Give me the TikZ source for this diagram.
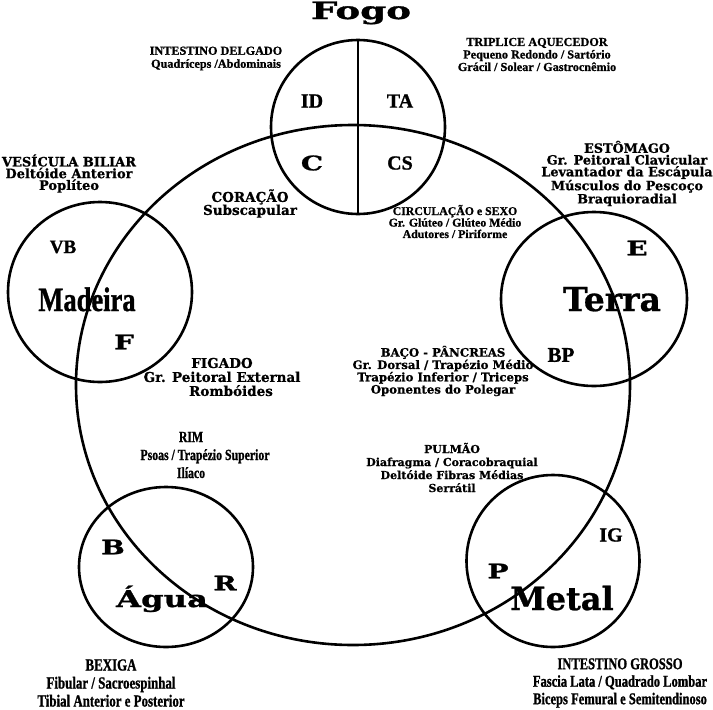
\documentclass[tikz,border=0pt]{standalone}
\usepackage{fontspec}
\usetikzlibrary{shapes.geometric}
\newfontfamily\wideF[BoldFeatures={FakeBold=0.8}]{DejaVu Serif}
\newfontfamily\xwideF[FakeStretch=1.4,BoldFeatures={FakeBold=1.2}]{DejaVu Serif}
\newfontfamily\fogoF[FakeStretch=1.55,BoldFeatures={FakeBold=1.4}]{DejaVu Serif}
\newfontfamily\medF[BoldFeatures={FakeBold=1}]{Liberation Serif}
\newfontfamily\condF[FakeStretch=0.76,BoldFeatures={FakeBold=1}]{Liberation Serif}
\newfontfamily\madF[FakeStretch=0.78,BoldFeatures={FakeBold=1}]{Liberation Serif}
\tikzset{
  ring/.style={draw, ellipse, line width=2.6pt, inner sep=0pt, outer sep=0pt},
  wtx/.style n args={2}{font=\wideF\bfseries\fontsize{#1}{#2}\selectfont, align=center, inner sep=0pt},
  xtx/.style={font=\xwideF\bfseries\fontsize{#1}{#1}\selectfont, inner sep=0pt},
  mtx/.style n args={2}{font=\medF\bfseries\fontsize{#1}{#2}\selectfont, align=center, inner sep=0pt},
  ctx/.style n args={2}{font=\condF\bfseries\fontsize{#1}{#2}\selectfont, align=center, inner sep=0pt},
}
\begin{document}
\begin{tikzpicture}[x=1pt,y=-1pt]
\useasboundingbox[fill=white] (0,0) rectangle (713,710);
% circles
\node[ring, minimum width=554pt, minimum height=520pt] (big) at (353,385) {};
\node[ring, minimum width=174pt, minimum height=174pt] (fogoC) at (358,127) {};
\node[ring, minimum width=184pt, minimum height=180pt] (madeiraC) at (100,292) {};
\node[ring, minimum width=186pt, minimum height=174pt] (terraC) at (594,299) {};
\node[ring, minimum width=174pt, minimum height=160pt] (aguaC) at (166,567) {};
\node[ring, minimum width=173pt, minimum height=172pt] (metalC) at (553,561) {};
\draw[line width=2.6pt] (fogoC.north) -- (fogoC.south);
% element names
\node[font=\fogoF\bfseries\fontsize{24}{24}\selectfont, inner sep=0pt, anchor=base] (fogo) at (361,19) {Fogo};
\node[font=\madF\bfseries\fontsize{34}{34}\selectfont, inner sep=0pt, anchor=base] (madeira) at (87,311) {Madeira};
\node[font=\wideF\bfseries\fontsize{33}{33}\selectfont, inner sep=0pt, anchor=base] (terra) at (612,311) {Terra};
\node[xtx=23, anchor=base] (agua) at (162,607) {Água};
\node[font=\wideF\bfseries\fontsize{32}{32}\selectfont, inner sep=0pt, anchor=base] (metal) at (562,610) {Metal};
% organ letters
\node[mtx={20}{20}] (id) at (312,101) {ID};
\node[mtx={20}{20}] (ta) at (400,101) {TA};
\node[mtx={20}{20}] (cs) at (400,163) {CS};
\node[xtx=20] (c) at (312,163) {C};
\node[mtx={19}{19}] (vb) at (63,247) {VB};
\node[xtx=20] (f) at (124,342) {F};
\node[xtx=20] (e) at (637,248) {E};
\node[mtx={21}{21}] (bp) at (561,355) {BP};
\node[xtx=20] (b) at (113,547) {B};
\node[xtx=20] (r) at (225,583) {R};
\node[mtx={20}{20}] (ig) at (611,535) {IG};
\node[xtx=20] (p) at (498,571) {P};
% descriptions
\node[mtx={12.2}{13}] (idtxt) at (216,58.5) {INTESTINO DELGADO\\Quadríceps /Abdominais};
\node[mtx={12.2}{12.5}] (tatxt) at (537,54.5) {TRIPLICE AQUECEDOR\\Pequeno Redondo / Sartório\\Grácil / Solear / Gastrocnêmio};
\node[wtx={13}{11.7}] (vbtxt) at (69,173.5) {VESÍCULA BILIAR\\Deltóide Anterior\\Poplíteo};
\node[wtx={13.5}{13}] (ctxt) at (250,203.5) {CORAÇÃO\\Subscapular};
\node[wtx={12.8}{11.75}] (etxt) at (627,173.5) {ESTÔMAGO\\Gr. Peitoral Clavicular\\Levantador da Escápula\\Músculos do Pescoço\\Braquioradial};
\node[mtx={11.8}{11.5}] (cstxt) at (455,221.5) {CIRCULAÇÃO e SEXO\\Gr. Glúteo / Glúteo Médio\\Adutores / Piriforme};
\node[wtx={13.5}{14}] (ftxt) at (222,377) {FIGADO\\Gr. Peitoral External\\\hspace*{18pt}Rombóides};
\node[wtx={11.7}{12.3}] (bptxt) at (443,371) {BAÇO - PÂNCREAS\\Gr. Dorsal / Trapézio Médio\\Trapézio Inferior / Triceps\\Oponentes do Polegar};
\node[ctx={15.5}{18}] (rtxt) at (205,455) {RIM\hspace*{28pt}\\Psoas / Trapézio Superior\\Ilíaco\hspace*{28pt}};
\node[wtx={11}{13}] (ptxt) at (452,467.5) {PULMÃO\\Diafragma / Coracobraquial\\Deltóide Fibras Médias\\Serrátil};
\node[ctx={17}{18}] (btxt) at (111,683) {BEXIGA\\Fibular / Sacroespinhal\\Tibial Anterior e Posterior};
\node[ctx={16.5}{17.5}] (igtxt) at (620,683) {INTESTINO GROSSO\\Fascia Lata / Quadrado Lombar\\Biceps Femural e Semitendinoso};
\end{tikzpicture}
\end{document}
